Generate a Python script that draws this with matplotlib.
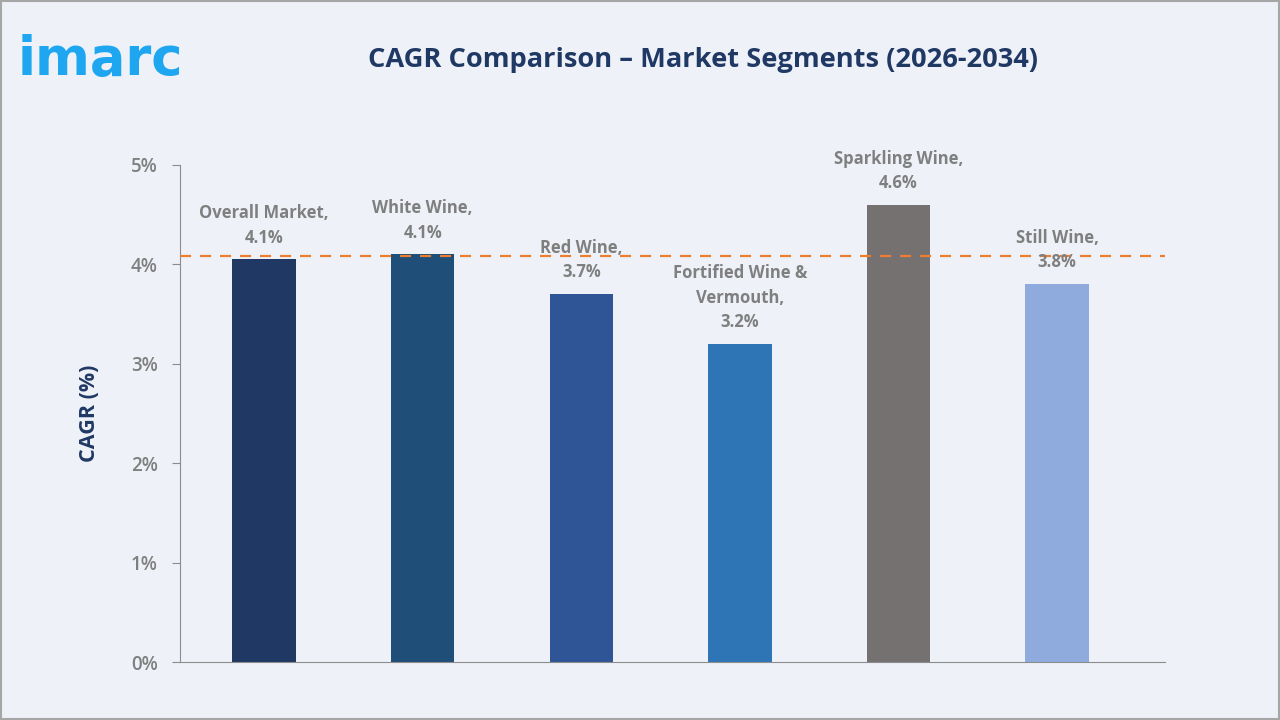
import matplotlib.pyplot as plt
from matplotlib.patches import Rectangle

# data
segments = ["Overall Market", "White Wine", "Red Wine", "Fortified Wine &\nVermouth",
            "Sparkling Wine", "Still Wine"]
cagr = [4.05, 4.1, 3.7, 3.2, 4.6, 3.8]
cagr_labels = ["4.1%", "4.1%", "3.7%", "3.2%", "4.6%", "3.8%"]
ref_line = 4.08
yticks = [0, 1, 2, 3, 4, 5]

colors = ["#203864", "#1f4e79", "#2f5597", "#2e75b6", "#767171", "#8faadc"]
bg = "#eef2f8"
navy = "#1f3864"
grey = "#7f7f7f"

plt.rcParams['font.family'] = ['Open Sans', 'DejaVu Sans']

fig = plt.figure(figsize=(12.8, 7.2), dpi=100, facecolor=bg)
fig.patches.append(Rectangle((0.001, 0.001), 0.998, 0.997, transform=fig.transFigure,
                             fill=False, edgecolor="#a6a6a6", linewidth=1.5))

ax = fig.add_axes([180 / 1280, 1 - 662 / 720, (1165 - 180) / 1280, (662 - 165) / 720])
ax.set_facecolor(bg)

x = list(range(len(segments)))
ax.bar(x, cagr, width=0.4, color=colors, zorder=2)
ax.axhline(ref_line, color="#ed7d31", linestyle=(0, (5, 4)), linewidth=1.6, zorder=3)

for i, (v, lab, name) in enumerate(zip(cagr, cagr_labels, segments)):
    ax.text(i, v + 0.13, name + ",\n" + lab, ha="center", va="bottom", color=grey,
            fontsize=12, fontweight="bold", linespacing=1.45, zorder=4)

ax.set_xlim(-0.53, 5.68)
ax.set_ylim(0, 5)
ax.set_yticks(yticks)
ax.set_yticklabels([f"{t}%" for t in yticks], fontsize=13.5, color=grey, fontweight="semibold")
ax.set_xticks([])
for s in ["top", "right"]:
    ax.spines[s].set_visible(False)
for s in ["left", "bottom"]:
    ax.spines[s].set_color("#8c8c8c")
ax.tick_params(axis="y", length=6, color="#8c8c8c", pad=10)
ax.set_ylabel("CAGR (%)", fontsize=15.5, fontweight="bold", color=navy, labelpad=22)

fig.text(0.549, 1 - 60 / 720, "CAGR Comparison \u2013 Market Segments (2026-2034)",
         ha="center", va="center", fontsize=19.6, fontweight="bold", color=navy)
fig.text(18 / 1280, 1 - 60 / 720, "imarc", ha="left", va="center", fontsize=38,
         fontweight="bold", color="#1ea7f0", family=["DejaVu Sans"])

fig.savefig("out.png", dpi=100, facecolor=bg)
